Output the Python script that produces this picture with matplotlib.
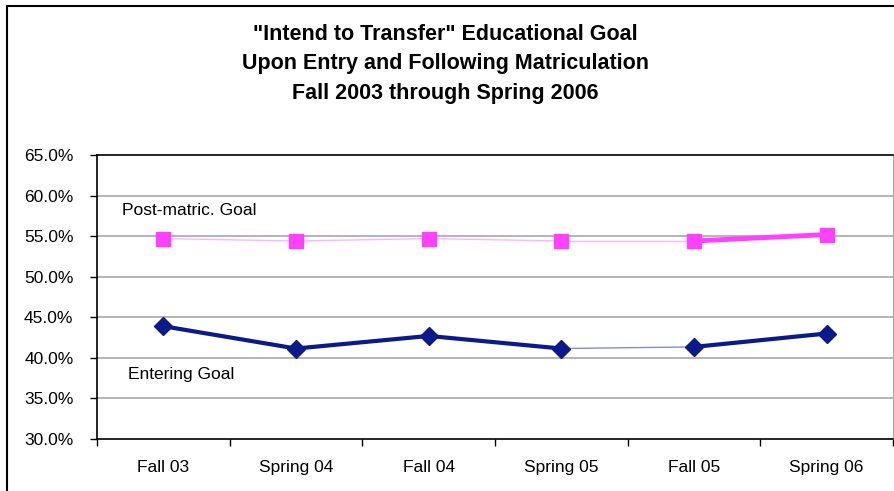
import matplotlib
matplotlib.use("Agg")
import matplotlib.pyplot as plt
from matplotlib.patches import Rectangle

plt.rcParams['font.family'] = ['Liberation Sans', 'DejaVu Sans']

terms = ['Fall 03', 'Spring 04', 'Fall 04', 'Spring 05', 'Fall 05', 'Spring 06']
post_matric = [54.7, 54.4, 54.7, 54.4, 54.4, 55.2]
entering = [43.9, 41.15, 42.7, 41.15, 41.35, 43.0]

# per-segment line styles (width, colour)
pink_seg = [(1.0, '#ffb4ff')] * 4 + [(3.5, '#ff40ff')]
blue_seg = [(3.0, '#0a1a8c')] * 3 + [(1.0, '#8090d0')] + [(3.0, '#0a1a8c')]

fig = plt.figure(figsize=(8.94, 4.91), dpi=100)
# chart frame
fig.patches.append(Rectangle((7 / 894, -0.1), 1.2, 1.1 - 6 / 491,
                             transform=fig.transFigure, fill=False,
                             edgecolor='black', linewidth=1.5))

ax = fig.add_axes([97 / 894, 1 - 439 / 491, 796 / 894, 284 / 491])
x = list(range(len(terms)))

for i in range(len(x) - 1):
    lw, c = pink_seg[i]
    ax.plot(x[i:i + 2], post_matric[i:i + 2], color=c, linewidth=lw, zorder=2)
    lw, c = blue_seg[i]
    ax.plot(x[i:i + 2], entering[i:i + 2], color=c, linewidth=lw, zorder=2)

ax.plot(x, post_matric, linestyle='none', marker='s', markersize=10,
        color='#ff40ff', zorder=3)
ax.plot(x, entering, linestyle='none', marker='D', markersize=9.5,
        color='#0a1a8c', zorder=3)

ax.text(-0.31, 58.2, 'Post-matric. Goal', fontsize=12.5, va='center', ha='left')
ax.text(-0.27, 37.9, 'Entering Goal', fontsize=12.5, va='center', ha='left')

ax.set_xlim(-0.5, 5.5)
ax.set_ylim(30, 65)
yt = [30, 35, 40, 45, 50, 55, 60, 65]
ax.set_yticks(yt)
ax.set_yticklabels(['%.1f%%' % v for v in yt], fontsize=12.5)
for v in yt[1:-1]:
    ax.axhline(v, color='#a8a8a8', linewidth=1.2, zorder=1)

ax.set_xticks([i - 0.5 for i in range(len(terms) + 1)])
ax.set_xticklabels([])
ax.set_xticks(x, minor=True)
ax.set_xticklabels(terms, minor=True, fontsize=12.5)
ax.tick_params(axis='x', which='minor', length=0, pad=15)
ax.tick_params(axis='x', which='major', length=5, width=1, direction='out')
ax.tick_params(axis='y', length=5, width=1, direction='out', pad=12)

for s in ['left', 'bottom', 'top']:
    ax.spines[s].set_color('black')
    ax.spines[s].set_linewidth(1.2)
ax.spines['right'].set_color('#a8a8a8')

title_lines = ['"Intend to Transfer" Educational Goal',
               'Upon Entry and Following Matriculation',
               'Fall 2003 through Spring 2006']
for k, line in enumerate(title_lines):
    fig.text(0.498, 1 - (34 + 29.5 * k) / 491, line, ha='center', va='center',
             fontsize=15.5, fontweight='bold')

fig.savefig('out.png', dpi=100)
